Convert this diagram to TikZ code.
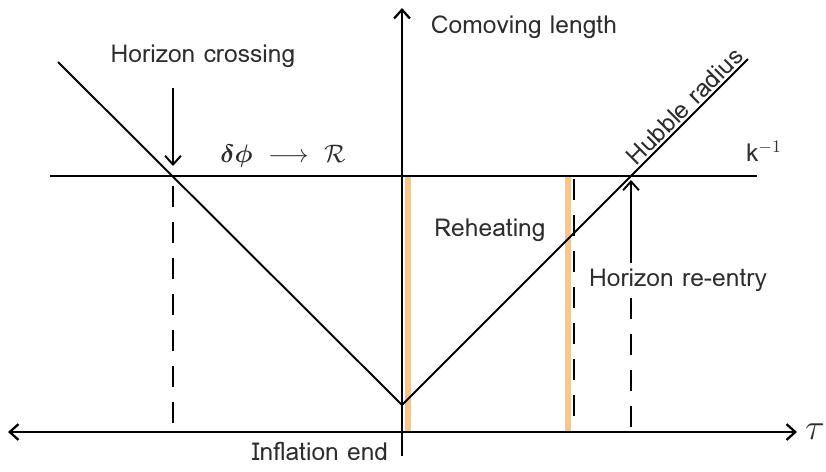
\documentclass[tikz,border=0pt]{standalone}
\usepackage{amsmath,bm}
\usepackage{fontspec}
\setmainfont{Loma}
\usetikzlibrary{arrows.meta, positioning, calc}

\definecolor{reheat}{RGB}{246,198,140}
\definecolor{inkgray}{RGB}{45,45,45}

\begin{document}
\begin{tikzpicture}[x=0.02cm, y=-0.02cm, line width=1.1pt,
    lbl/.style={text=inkgray, font=\fontsize{14}{16}\selectfont, inner sep=1pt},
    barb/.style={-{Straight Barb[length=5pt,width=9pt]}},
    twobarb/.style={{Straight Barb[length=5pt,width=9pt]}-{Straight Barb[length=5pt,width=9pt]}},
    dashline/.style={dash pattern=on 12pt off 8.5pt},
    heatbar/.style={draw=reheat, line width=3.6pt}]
    \useasboundingbox (0,0) rectangle (826,471);

    % key points (pixels of the sketch)
    \coordinate (ytop) at (402,8);
    \coordinate (ybot) at (402,456);
    \coordinate (xleft) at (8,432);
    \coordinate (xright) at (797,432);
    \coordinate (kleft) at (50,176);
    \coordinate (kright) at (757,176);
    \coordinate (hleft) at (58,62);
    \coordinate (vtx) at (402,405);
    \coordinate (hright) at (748,59);
    \coordinate (exit) at (173,186);
    \coordinate (exitbot) at (173,432);
    \coordinate (reentry) at (631,176);
    \coordinate (reentrybot) at (631,432);

    % Reheating bars (behind the lines)
    \draw[heatbar] (408,176) coordinate (heatAtop) -- (408,432) coordinate (heatAbot);
    \draw[heatbar] (568,176) coordinate (heatBtop) -- (568,432) coordinate (heatBbot);

    % Axes
    \draw[twobarb, line width=1.3pt] (xleft) -- (xright);
    \draw[barb, line width=1.3pt] (ybot) -- (ytop);

    % Scale k^{-1}
    \draw (kleft) -- (kright);

    % Hubble radius
    \draw (hleft) -- (vtx);
    \draw (vtx) -- node[pos=0.84, sloped, above=0pt, lbl] (hublbl) {Hubble radius} (hright);

    % Dashed verticals
    \draw[dashline] (exit) -- (exitbot);
    \draw[dashline] (574,179) coordinate (heatdash) -- (574,432) coordinate (heatdashbot);
    \coordinate (reentrydash) at (631,298);
    \draw[dashline] (reentrydash) -- (reentrybot);

    % Horizon crossing
    \node[lbl] (crosslbl) at (203,56) {Horizon crossing};
    \coordinate (crosstail) at (173,88);
    \coordinate (crosstip) at (173,166);
    \draw[barb] (crosstail) -- (crosstip);

    % Horizon re-entry
    \node[lbl] (reentrylbl) at (678,280) {Horizon re-entry};
    \coordinate (reentrytail) at (631,263);
    \coordinate (reentrytip) at (631,180);
    \draw[barb] (reentrytail) -- (reentrytip);

    % Labels
    \node[lbl] (comoving) at (524,27) {Comoving length};
    \node[lbl] (conv) at (283,156) {$\bm{\delta\phi}\ \longrightarrow\ \mathcal{R}$};
    \node[lbl] (kinv) at (764,151) {k$^{-1}$};
    \node[lbl] (reheating) at (490,230) {Reheating};
    \node[lbl] (inflend) at (320,451) {Inflation end};
    \node[lbl, font=\fontsize{20}{22}\selectfont] (tau) at (815,432) {$\tau$};
\end{tikzpicture}
\end{document}
